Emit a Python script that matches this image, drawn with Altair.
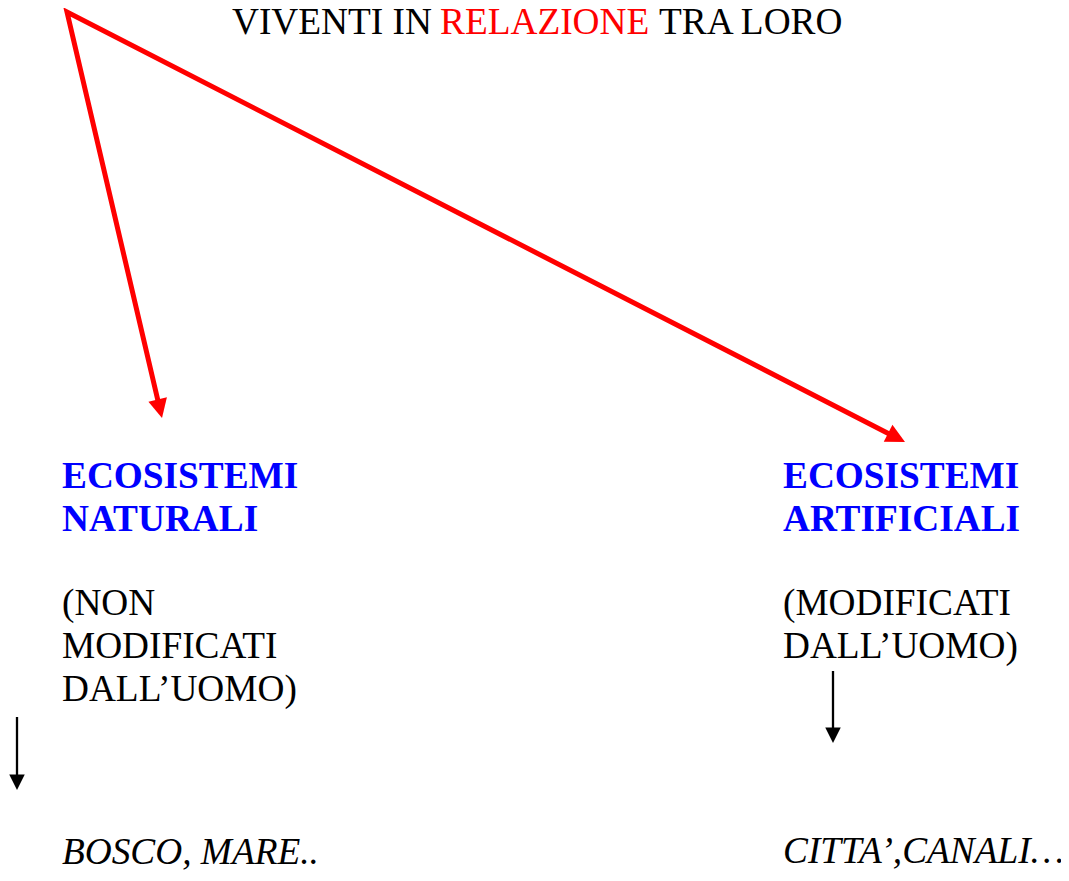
import math
import altair as alt
import pandas as pd

# ---- text content ----
title_text = ["VIVENTI IN", "RELAZIONE", "TRA LORO"]
title_x = [232, 440, 659]
title_y = [34, 34, 34]
title_role = ["plain", "highlight", "plain"]

heading_text = ["ECOSISTEMI", "NATURALI", "ECOSISTEMI", "ARTIFICIALI"]
heading_x = [62, 62, 783, 783]
heading_y = [488, 531, 488, 531]

note_text = ["(NON", "MODIFICATI", "DALL\u2019UOMO)", "(MODIFICATI", "DALL\u2019UOMO)"]
note_x = [62, 62, 62, 783, 783]
note_y = [615, 658, 701, 615, 658]

example_text = ["BOSCO, MARE..", "CITTA\u2019,CANALI\u2026"]
example_x = [62, 783]
example_y = [864, 863]

# ---- arrows ----
red_apex = (67, 12)
red_tips_x = [162, 905]
red_tips_y = [418, 442]

black_x = [17, 833]
black_top = [717, 671]
black_tip = [790, 743]

FONT = "Liberation Serif"
FS = 37.3

# page is 1069x881 with an 8px body margin -> drawable 1053x865
X = lambda f: alt.X(f, type="quantitative", axis=None,
                    scale=alt.Scale(domain=[8, 1061], zero=False, nice=False))
Y = lambda f: alt.Y(f, type="quantitative", axis=None,
                    scale=alt.Scale(domain=[8, 873], zero=False, nice=False, reverse=True))

def unit(dx, dy):
    n = math.hypot(dx, dy)
    return dx / n, dy / n

ends = []
angles = []
for tx, ty in zip(red_tips_x, red_tips_y):
    ux, uy = unit(tx - red_apex[0], ty - red_apex[1])
    ends.append((tx - 10 * ux, ty - 10 * uy))
    angles.append(math.degrees(math.atan2(-ux, uy)) % 360)
red_line = pd.DataFrame({
    "x": [ends[0][0], red_apex[0], ends[1][0]],
    "y": [ends[0][1], red_apex[1], ends[1][1]],
    "o": [0, 1, 2],
})
red_heads = pd.DataFrame({"x": red_tips_x, "y": red_tips_y, "angle": angles})

black_lines = pd.DataFrame({"x": black_x, "y": black_top,
                            "y2": [t - 8 for t in black_tip]})
black_heads = pd.DataFrame({"x": black_x, "y": black_tip, "angle": [0, 0]})

HEAD = "M0,0 L-0.5,-1 L0.5,-1 Z"

red_path = alt.Chart(red_line).mark_line(
    color="#ff0000", strokeWidth=5, strokeJoin="miter", strokeCap="butt", clip=False
).encode(x=X("x"), y=Y("y"), order="o:Q")

red_arrow = alt.Chart(red_heads).mark_point(
    shape=HEAD, filled=True, color="#ff0000", size=1444, opacity=1, strokeWidth=0
).encode(x=X("x"), y=Y("y"), angle=alt.Angle("angle:Q", scale=None))

blk_rule = alt.Chart(black_lines).mark_rule(color="#000000", strokeWidth=2.3).encode(
    x=X("x"), y=Y("y"), y2="y2:Q")

blk_arrow = alt.Chart(black_heads).mark_point(
    shape=HEAD, filled=True, color="#000000", size=961, opacity=1, strokeWidth=0
).encode(x=X("x"), y=Y("y"), angle=alt.Angle("angle:Q", scale=None))

title_df = pd.DataFrame({"t": title_text, "x": title_x, "y": title_y, "role": title_role})
title = alt.Chart(title_df).mark_text(
    align="left", baseline="alphabetic", font=FONT, fontSize=FS
).encode(
    x=X("x"), y=Y("y"), text="t:N",
    color=alt.Color("role:N", legend=None,
                    scale=alt.Scale(domain=["plain", "highlight"], range=["#000000", "#ff0000"])),
)

heads_df = pd.DataFrame({"t": heading_text, "x": heading_x, "y": heading_y})
headings = alt.Chart(heads_df).mark_text(
    align="left", baseline="alphabetic", font=FONT, fontSize=FS,
    fontWeight="bold", color="#0000ff"
).encode(x=X("x"), y=Y("y"), text="t:N")

notes_df = pd.DataFrame({"t": note_text, "x": note_x, "y": note_y})
notes = alt.Chart(notes_df).mark_text(
    align="left", baseline="alphabetic", font=FONT, fontSize=FS, color="#000000"
).encode(x=X("x"), y=Y("y"), text="t:N")

ex_df = pd.DataFrame({"t": example_text, "x": example_x, "y": example_y})
examples = alt.Chart(ex_df).mark_text(
    align="left", baseline="alphabetic", font=FONT, fontSize=FS,
    fontStyle="italic", color="#000000"
).encode(x=X("x"), y=Y("y"), text="t:N")

chart = alt.layer(
    red_path, red_arrow, blk_rule, blk_arrow, title, headings, notes, examples
).properties(
    width=1053, height=865, padding=0, background="#ffffff",
    autosize=alt.AutoSizeParams(type="none")
).configure_view(stroke=None, strokeWidth=0)

chart.save("out.html", embed_options={"renderer": "svg", "actions": False})
